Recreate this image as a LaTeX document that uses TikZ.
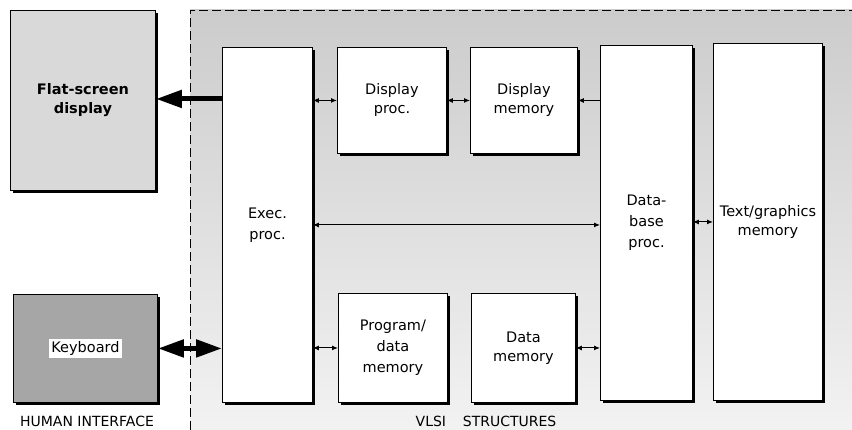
\documentclass[tikz,border=0pt]{standalone}
\usepackage{fontspec}
\setmainfont{DejaVu Sans}
\usetikzlibrary{arrows.meta,shadows,calc}
\tikzset{bigtip/.tip={Triangle[length=26pt,width=17pt]},
  smalltip/.tip={Latex[length=6pt,width=5pt]}}
\begin{document}
\begin{tikzpicture}[x=1pt,y=-1pt,
  blk/.style={draw=black, line width=0.9pt, fill=white, anchor=north west,
    align=center, font=\fontsize{14.5}{21}\selectfont, inner sep=2pt,
    drop shadow={shadow xshift=2.5pt, shadow yshift=-2.5pt, fill=black, opacity=1}},
  thin/.style={line width=1pt, {smalltip}-{smalltip}},
  thick/.style={line width=5pt},
  lbl/.style={font=\fontsize{14}{16}\selectfont}
]
\useasboundingbox (0,0) rectangle (852,430);
% VLSI region
\shade[top color=gray!40, bottom color=gray!10] (190,10) rectangle (852,430);
\draw[line width=0.9pt, dash pattern=on 9pt off 4pt] (190,430) -- (190,10) -- (852,10);
% Human interface boxes
\node[blk, fill=gray!30, minimum width=145pt, minimum height=180pt, font=\fontsize{14.5}{19}\selectfont\bfseries] (fs) at (10,10) {Flat-screen\\display};
\node[blk, fill=gray!70, minimum width=144pt, minimum height=108pt] (kb) at (13,294) {};
\node[fill=white, inner sep=2.5pt, font=\fontsize{14.5}{17}\selectfont] (kbt) at (kb.center) {Keyboard};
% VLSI boxes
\node[blk, minimum width=90pt, minimum height=355pt] (exec) at (222,47) {Exec.\\proc.};
\node[blk, minimum width=109pt, minimum height=106pt, font=\fontsize{14.5}{19}\selectfont] (dp) at (337,47) {Display\\proc.};
\node[blk, minimum width=107pt, minimum height=106pt, font=\fontsize{14.5}{19}\selectfont] (dm) at (470,47) {Display\\memory};
\node[blk, minimum width=92pt, minimum height=355pt] (db) at (600,45) {Data-\\base\\proc.};
\node[blk, minimum width=109pt, minimum height=357pt, font=\fontsize{14.5}{19}\selectfont] (tg) at (713,43) {Text/graphics\\memory};
\node[blk, minimum width=109pt, minimum height=109pt] (pdm) at (338,293) {Program/\\data\\memory};
\node[blk, minimum width=104pt, minimum height=109pt, font=\fontsize{14.5}{19}\selectfont] (dam) at (471,293) {Data\\memory};
% labels
\node[lbl] (hi) at (87,421) {HUMAN INTERFACE};
\node[lbl] (vl) at (486,421) {VLSI\hspace{1.2em}STRUCTURES};
% connectors
\coordinate (fa) at ($(exec.west)+(0,-126)$);
\draw[thick, -{bigtip}] (fa) -- (fa -| fs.east);
\draw[thick, {bigtip}-{bigtip}] (kb.east) -- (kb.east -| exec.west);
\draw[thin] (dp.west -| exec.east) -- (dp.west);
\draw[thin] (dp.east) -- (dm.west);
\draw[line width=1pt, {smalltip}-] (dm.east) -- (dm.east -| db.west);
\draw[thin] (exec.east) -- (exec.east -| db.west);
\draw[thin] (db.east |- tg.west) -- (tg.west);
\draw[thin] (pdm.west -| exec.east) -- (pdm.west);
\draw[thin] (dam.east) -- (dam.east -| db.west);
\end{tikzpicture}
\end{document}
